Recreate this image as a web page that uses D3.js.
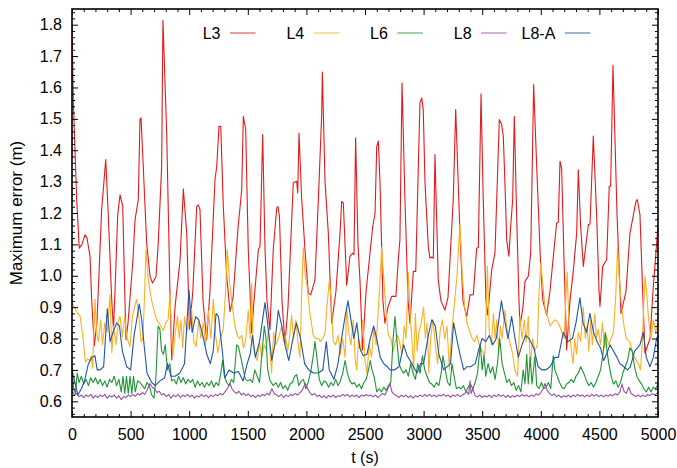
<!DOCTYPE html>
<html>
<head>
<meta charset="utf-8">
<script src="https://cdn.jsdelivr.net/npm/d3@7"></script>
<style>
  html, body { margin: 0; padding: 0; background: #fff; }
  svg { display: block; font-family: "Liberation Sans", Arial, Helvetica, sans-serif; }
</style>
</head>
<body>
<svg id="chart" width="677" height="468"></svg>
<script>
// Time axis and error axis ticks
const xTicks = [0, 500, 1000, 1500, 2000, 2500, 3000, 3500, 4000, 4500, 5000];
const yTicks = [0.6, 0.7, 0.8, 0.9, 1.0, 1.1, 1.2, 1.3, 1.4, 1.5, 1.6, 1.7, 1.8];
const seriesNames = ["L3", "L4", "L6", "L8", "L8-A"];

// Maximum error per configuration, [t (s), error (m)]
const L3 = [[0,1.80],[11,1.56],[40,1.243],[62,1.088],[85,1.10],[111,1.131],[128,1.12],[154,1.062],[168,0.923],[190,0.777],[213,0.85],[253,1.211],[288,1.37],[310,1.189],[339,0.923],[354,0.83],[367,0.95],[390,1.195],[410,1.258],[433,1.221],[452,0.92],[461,0.796],[478,0.85],[520,1.05],[538,1.179],[566,1.243],[580,1.498],[589,1.503],[608,1.349],[637,1.104],[666,0.998],[687,0.977],[717,0.998],[736,1.104],[765,1.349],[776,1.814],[808,1.455],[836,0.945],[851,0.732],[879,0.9],[922,1.05],[950,1.277],[979,1.136],[1002,0.83],[1031,0.95],[1064,1.221],[1078,1.226],[1092,1.211],[1118,0.92],[1149,0.796],[1177,0.95],[1220,1.306],[1235,1.349],[1254,1.476],[1269,1.476],[1291,1.221],[1320,0.998],[1348,0.886],[1374,0.93],[1416,1.15],[1448,1.274],[1462,1.508],[1482,1.466],[1504,1.083],[1533,0.817],[1553,0.92],[1590,1.083],[1604,1.093],[1627,1.45],[1647,1.083],[1664,0.92],[1689,0.828],[1717,1.083],[1747,1.216],[1758,1.22],[1770,1.19],[1792,0.92],[1817,0.785],[1843,0.9],[1888,1.296],[1917,1.301],[1926,1.264],[1937,1.455],[1960,1.243],[1988,1.083],[2016,0.945],[2037,0.939],[2073,0.987],[2102,1.243],[2130,1.508],[2136,1.649],[2159,1.3],[2187,1.136],[2216,0.849],[2252,0.95],[2287,1.136],[2301,1.237],[2315,1.232],[2344,0.97],[2372,1.062],[2395,1.072],[2406,1.067],[2420,1.44],[2440,1.1],[2457,0.987],[2479,0.764],[2509,0.95],[2566,1.157],[2586,1.2],[2600,1.412],[2614,1.429],[2628,1.296],[2642,1.093],[2653,0.92],[2670,0.849],[2696,0.90],[2727,0.934],[2739,0.935],[2764,0.934],[2784,1.051],[2798,1.115],[2816,1.615],[2841,1.243],[2867,0.92],[2884,0.849],[2912,1.014],[2933,1.014],[2955,1.349],[2969,1.551],[2984,1.566],[2997,1.53],[3012,1.296],[3040,1.093],[3054,1.056],[3069,1.06],[3083,1.056],[3097,1.386],[3125,0.987],[3148,0.92],[3182,0.891],[3208,0.93],[3253,1.243],[3274,1.53],[3310,1.136],[3336,0.92],[3368,0.87],[3396,0.939],[3424,0.94],[3453,1.088],[3467,1.09],[3490,1.58],[3509,1.243],[3532,0.92],[3547,0.875],[3581,1.019],[3609,1.072],[3646,1.498],[3666,1.482],[3680,1.445],[3694,1.296],[3709,1.115],[3728,1.062],[3743,1.157],[3760,1.243],[3774,1.508],[3794,1.189],[3814,0.92],[3822,0.838],[3848,0.9],[3865,0.982],[3893,0.998],[3914,1.072],[3939,1.609],[3965,1.349],[3999,1.03],[4018,0.92],[4050,0.875],[4078,0.95],[4135,1.168],[4149,1.17],[4164,1.365],[4178,1.34],[4198,1.051],[4221,0.764],[4249,0.92],[4277,1.014],[4306,1.136],[4320,1.338],[4340,1.157],[4363,1.03],[4392,1.12],[4406,1.163],[4420,1.165],[4448,1.445],[4477,1.189],[4497,0.95],[4505,0.902],[4528,1.03],[4562,1.051],[4584,1.285],[4596,1.285],[4616,1.671],[4650,1.2],[4684,0.88],[4727,0.95],[4761,1.136],[4812,1.237],[4823,1.243],[4846,1.195],[4872,0.92],[4889,0.753],[4932,0.80],[4957,0.95],[5000,1.16]];

const L4 = [[0,0.915],[20,0.90],[40,0.885],[70,0.87],[95,0.80],[114,0.725],[135,0.735],[150,0.73],[165,0.745],[176,0.705],[196,0.925],[210,0.82],[225,0.79],[245,0.86],[260,0.78],[280,0.85],[300,0.82],[324,0.94],[340,0.755],[355,0.84],[375,0.78],[395,0.86],[410,0.87],[430,0.805],[450,0.87],[470,0.80],[495,0.775],[515,0.87],[540,0.91],[552,0.925],[570,0.87],[590,0.79],[605,0.80],[620,0.95],[631,1.085],[650,0.99],[680,0.92],[700,0.89],[723,0.86],[750,0.845],[779,0.825],[800,0.85],[820,0.86],[836,0.945],[850,0.80],[862,0.745],[880,0.815],[900,0.87],[915,0.80],[930,0.86],[945,0.77],[960,0.87],[980,0.82],[1000,0.86],[1020,0.895],[1040,0.79],[1060,0.775],[1080,0.86],[1100,0.80],[1120,0.85],[1140,0.78],[1163,0.89],[1185,0.80],[1206,0.925],[1225,0.81],[1245,0.755],[1265,0.80],[1291,0.83],[1310,0.95],[1325,1.085],[1345,0.98],[1365,0.915],[1390,0.84],[1410,0.81],[1430,0.80],[1450,0.81],[1462,0.77],[1480,0.79],[1504,0.89],[1520,0.80],[1533,0.975],[1545,0.78],[1560,0.75],[1580,0.73],[1600,0.79],[1620,0.74],[1640,0.78],[1660,0.76],[1675,0.83],[1690,0.76],[1703,0.69],[1720,0.82],[1740,0.78],[1760,0.80],[1789,0.84],[1805,0.79],[1820,0.81],[1840,0.76],[1855,0.80],[1874,0.875],[1890,0.80],[1910,0.86],[1930,0.78],[1945,0.74],[1960,0.95],[1974,1.09],[1990,1.0],[2005,0.97],[2030,0.88],[2059,0.81],[2080,0.80],[2100,0.80],[2120,0.79],[2140,0.80],[2160,0.82],[2175,0.90],[2195,0.985],[2210,0.93],[2230,0.79],[2250,0.78],[2270,0.81],[2290,0.75],[2310,0.80],[2330,0.74],[2344,0.90],[2360,0.82],[2380,0.78],[2400,0.86],[2415,0.74],[2429,0.70],[2445,0.80],[2465,0.76],[2480,0.86],[2500,0.73],[2517,0.69],[2535,0.78],[2555,0.74],[2575,0.83],[2595,0.78],[2615,0.90],[2630,1.0],[2642,1.09],[2660,0.99],[2675,0.91],[2699,0.81],[2720,0.80],[2740,0.76],[2760,0.79],[2780,0.81],[2800,0.78],[2815,0.75],[2835,0.84],[2850,0.80],[2870,1.01],[2885,0.88],[2900,0.80],[2915,0.70],[2930,0.88],[2945,0.76],[2960,0.82],[2980,0.85],[3000,0.90],[3015,0.80],[3030,0.85],[3045,0.69],[3060,0.80],[3080,0.86],[3100,0.78],[3120,0.72],[3140,0.82],[3160,0.86],[3180,0.80],[3200,0.84],[3220,0.70],[3240,0.82],[3260,0.90],[3285,1.0],[3310,1.165],[3330,1.0],[3350,0.90],[3370,0.85],[3396,0.82],[3415,0.80],[3435,0.79],[3455,0.81],[3475,0.78],[3500,0.76],[3524,0.75],[3544,1.03],[3560,0.82],[3580,0.78],[3595,0.88],[3610,0.80],[3625,0.86],[3640,0.76],[3655,0.84],[3670,0.80],[3694,0.89],[3715,0.82],[3735,0.79],[3760,0.75],[3779,0.70],[3802,0.68],[3822,0.87],[3840,0.80],[3860,0.86],[3875,0.79],[3893,0.87],[3910,0.71],[3930,0.80],[3950,0.76],[3970,0.78],[3985,0.95],[4000,1.04],[4020,0.96],[4035,0.90],[4055,0.875],[4078,0.84],[4100,0.85],[4120,0.86],[4140,0.855],[4160,0.84],[4180,0.82],[4200,0.80],[4212,0.92],[4225,1.01],[4240,0.85],[4255,0.78],[4275,0.72],[4290,0.80],[4305,0.75],[4320,0.82],[4340,0.79],[4362,0.90],[4380,0.80],[4395,0.84],[4410,0.76],[4425,0.86],[4440,0.78],[4460,0.88],[4475,0.80],[4490,0.83],[4510,0.78],[4525,0.85],[4545,0.77],[4560,0.81],[4580,0.78],[4600,0.80],[4620,0.82],[4640,0.94],[4655,1.09],[4670,0.99],[4690,0.90],[4710,0.84],[4730,0.80],[4760,0.79],[4780,0.76],[4800,0.74],[4832,0.72],[4850,0.70],[4865,0.78],[4880,0.92],[4889,0.998],[4905,0.94],[4920,0.86],[4940,0.80],[4960,0.86],[4980,0.82],[5000,0.85]];

const L6 = [[0,0.71],[15,0.64],[30,0.625],[45,0.69],[60,0.66],[80,0.68],[100,0.655],[120,0.67],[140,0.65],[160,0.675],[180,0.66],[200,0.675],[220,0.655],[240,0.67],[260,0.65],[280,0.665],[300,0.645],[320,0.67],[340,0.66],[360,0.68],[380,0.65],[400,0.67],[420,0.63],[435,0.68],[450,0.625],[465,0.68],[480,0.625],[495,0.68],[510,0.625],[525,0.68],[540,0.63],[560,0.665],[580,0.66],[600,0.65],[620,0.64],[640,0.66],[660,0.65],[680,0.62],[700,0.61],[715,0.67],[735,0.84],[750,0.83],[765,0.76],[780,0.75],[795,0.78],[815,0.70],[835,0.72],[850,0.665],[870,0.67],[890,0.655],[910,0.68],[930,0.66],[950,0.675],[970,0.655],[990,0.67],[1010,0.66],[1030,0.67],[1050,0.645],[1070,0.665],[1090,0.65],[1110,0.66],[1130,0.645],[1150,0.66],[1170,0.65],[1190,0.665],[1210,0.645],[1230,0.66],[1250,0.65],[1270,0.69],[1285,0.73],[1300,0.68],[1320,0.66],[1340,0.65],[1360,0.67],[1380,0.66],[1405,0.78],[1420,0.775],[1440,0.74],[1462,0.70],[1480,0.67],[1500,0.665],[1520,0.67],[1540,0.66],[1560,0.70],[1580,0.68],[1600,0.66],[1620,0.75],[1641,0.84],[1655,0.80],[1670,0.70],[1690,0.665],[1718,0.65],[1740,0.66],[1760,0.645],[1780,0.66],[1800,0.64],[1820,0.65],[1840,0.635],[1860,0.655],[1880,0.66],[1900,0.68],[1917,0.685],[1935,0.65],[1955,0.665],[1975,0.67],[1995,0.64],[2015,0.66],[2040,0.70],[2060,0.75],[2073,0.79],[2090,0.74],[2110,0.67],[2130,0.65],[2150,0.665],[2170,0.66],[2190,0.645],[2210,0.66],[2230,0.65],[2250,0.67],[2270,0.65],[2290,0.665],[2310,0.69],[2330,0.73],[2350,0.69],[2370,0.665],[2390,0.655],[2410,0.66],[2430,0.645],[2450,0.655],[2470,0.64],[2490,0.66],[2510,0.67],[2530,0.70],[2545,0.73],[2560,0.70],[2580,0.675],[2600,0.63],[2620,0.64],[2640,0.63],[2660,0.645],[2680,0.635],[2700,0.65],[2720,0.66],[2740,0.80],[2756,0.87],[2775,0.78],[2790,0.72],[2810,0.70],[2830,0.69],[2850,0.70],[2870,0.68],[2890,0.72],[2910,0.69],[2930,0.67],[2950,0.72],[2970,0.69],[2990,0.745],[3010,0.70],[3030,0.68],[3050,0.66],[3070,0.655],[3090,0.645],[3110,0.66],[3130,0.65],[3150,0.69],[3165,0.745],[3185,0.70],[3205,0.66],[3225,0.65],[3242,0.72],[3260,0.68],[3280,0.64],[3300,0.645],[3320,0.64],[3340,0.65],[3360,0.63],[3380,0.645],[3400,0.655],[3420,0.64],[3440,0.66],[3460,0.69],[3484,0.78],[3500,0.70],[3515,0.75],[3530,0.68],[3550,0.72],[3570,0.69],[3590,0.71],[3610,0.67],[3630,0.72],[3650,0.80],[3670,0.72],[3690,0.69],[3710,0.66],[3730,0.67],[3750,0.65],[3770,0.66],[3790,0.635],[3810,0.65],[3830,0.63],[3850,0.70],[3865,0.655],[3880,0.75],[3893,0.655],[3910,0.74],[3925,0.655],[3950,0.745],[3965,0.65],[3985,0.64],[4005,0.66],[4025,0.64],[4045,0.645],[4065,0.66],[4085,0.64],[4106,0.745],[4120,0.70],[4140,0.68],[4160,0.66],[4180,0.645],[4200,0.64],[4220,0.655],[4240,0.66],[4260,0.67],[4280,0.66],[4300,0.68],[4320,0.69],[4340,0.71],[4366,0.69],[4390,0.665],[4410,0.65],[4430,0.66],[4450,0.645],[4470,0.66],[4490,0.68],[4510,0.70],[4530,0.75],[4550,0.82],[4565,0.76],[4580,0.72],[4600,0.68],[4620,0.655],[4640,0.665],[4660,0.645],[4680,0.66],[4700,0.69],[4720,0.71],[4740,0.73],[4760,0.77],[4780,0.76],[4800,0.71],[4820,0.68],[4840,0.665],[4860,0.655],[4880,0.64],[4900,0.63],[4920,0.645],[4940,0.63],[4960,0.645],[4980,0.64],[5000,0.655]];

const L8 = [[0,0.635],[20,0.62],[40,0.625],[60,0.615],[80,0.62],[100,0.612],[120,0.62],[140,0.615],[160,0.622],[180,0.61],[200,0.618],[220,0.612],[240,0.62],[260,0.615],[280,0.622],[300,0.61],[320,0.618],[340,0.614],[360,0.62],[380,0.61],[400,0.618],[420,0.605],[440,0.615],[460,0.612],[480,0.62],[500,0.615],[520,0.622],[540,0.616],[560,0.625],[580,0.62],[600,0.628],[620,0.622],[640,0.635],[665,0.657],[685,0.645],[705,0.64],[725,0.628],[745,0.632],[765,0.62],[785,0.625],[805,0.615],[825,0.622],[845,0.61],[865,0.62],[885,0.615],[905,0.622],[925,0.612],[945,0.62],[965,0.615],[985,0.622],[1005,0.614],[1025,0.62],[1045,0.61],[1065,0.618],[1085,0.614],[1105,0.622],[1125,0.615],[1145,0.62],[1165,0.612],[1185,0.62],[1205,0.615],[1225,0.622],[1245,0.618],[1265,0.625],[1285,0.62],[1305,0.63],[1325,0.64],[1348,0.657],[1365,0.64],[1385,0.63],[1405,0.625],[1425,0.632],[1445,0.62],[1465,0.626],[1485,0.618],[1505,0.624],[1525,0.615],[1545,0.62],[1565,0.612],[1585,0.62],[1605,0.615],[1625,0.622],[1645,0.618],[1665,0.625],[1685,0.62],[1705,0.64],[1725,0.625],[1745,0.62],[1765,0.615],[1785,0.622],[1805,0.612],[1825,0.62],[1845,0.615],[1865,0.622],[1885,0.618],[1905,0.625],[1925,0.62],[1945,0.628],[1965,0.635],[1990,0.657],[2010,0.64],[2030,0.628],[2050,0.62],[2070,0.625],[2090,0.615],[2110,0.62],[2130,0.612],[2150,0.618],[2170,0.61],[2190,0.618],[2210,0.614],[2230,0.62],[2250,0.612],[2270,0.618],[2290,0.615],[2310,0.622],[2330,0.617],[2350,0.622],[2370,0.614],[2390,0.62],[2410,0.615],[2430,0.62],[2450,0.612],[2470,0.62],[2490,0.616],[2510,0.622],[2530,0.617],[2550,0.62],[2570,0.614],[2590,0.62],[2610,0.612],[2630,0.618],[2650,0.625],[2670,0.62],[2690,0.635],[2713,0.657],[2730,0.63],[2750,0.622],[2770,0.618],[2790,0.612],[2810,0.62],[2830,0.614],[2850,0.62],[2870,0.612],[2890,0.618],[2910,0.61],[2930,0.618],[2950,0.614],[2970,0.62],[2990,0.615],[3010,0.622],[3030,0.616],[3050,0.622],[3070,0.615],[3090,0.62],[3110,0.614],[3130,0.62],[3150,0.617],[3170,0.623],[3190,0.616],[3210,0.62],[3230,0.613],[3250,0.62],[3270,0.616],[3290,0.622],[3310,0.615],[3330,0.62],[3350,0.625],[3370,0.63],[3385,0.622],[3396,0.665],[3405,0.625],[3420,0.64],[3440,0.618],[3460,0.614],[3480,0.62],[3500,0.612],[3520,0.618],[3540,0.614],[3560,0.62],[3580,0.612],[3600,0.62],[3620,0.615],[3640,0.622],[3660,0.616],[3680,0.62],[3700,0.613],[3720,0.62],[3740,0.612],[3760,0.618],[3780,0.614],[3800,0.62],[3820,0.615],[3840,0.622],[3860,0.616],[3880,0.62],[3900,0.614],[3920,0.62],[3940,0.616],[3960,0.624],[3980,0.62],[4000,0.628],[4020,0.64],[4036,0.657],[4055,0.635],[4075,0.625],[4095,0.618],[4115,0.624],[4135,0.615],[4155,0.62],[4175,0.612],[4195,0.618],[4215,0.614],[4235,0.62],[4255,0.613],[4275,0.62],[4295,0.615],[4315,0.622],[4335,0.616],[4355,0.62],[4375,0.614],[4395,0.62],[4415,0.615],[4435,0.622],[4455,0.617],[4475,0.622],[4495,0.615],[4515,0.62],[4535,0.614],[4555,0.62],[4575,0.616],[4595,0.622],[4615,0.618],[4635,0.624],[4655,0.62],[4675,0.63],[4693,0.655],[4710,0.632],[4730,0.625],[4750,0.645],[4770,0.625],[4790,0.62],[4810,0.615],[4830,0.62],[4850,0.614],[4870,0.62],[4890,0.615],[4910,0.622],[4930,0.618],[4950,0.624],[4970,0.62],[5000,0.628]];

const L8A = [[0,0.70],[25,0.66],[50,0.62],[80,0.64],[110,0.67],[140,0.72],[170,0.74],[196,0.745],[215,0.70],[240,0.70],[270,0.71],[301,0.895],[325,0.79],[350,0.82],[381,0.85],[405,0.84],[430,0.76],[467,0.71],[500,0.70],[530,0.81],[574,0.91],[595,0.86],[615,0.78],[640,0.69],[680,0.66],[710,0.65],[750,0.665],[790,0.675],[815,0.72],[845,0.68],[880,0.68],[920,0.69],[960,0.72],[998,0.955],[1025,0.82],[1055,0.87],[1080,0.86],[1110,0.82],[1150,0.75],[1180,0.72],[1205,0.76],[1229,0.88],[1250,0.87],[1280,0.77],[1305,0.675],[1340,0.70],[1380,0.69],[1420,0.695],[1460,0.665],[1495,0.72],[1520,0.75],[1540,0.81],[1565,0.74],[1600,0.79],[1647,0.915],[1675,0.83],[1705,0.73],[1730,0.78],[1760,0.89],[1790,0.84],[1820,0.775],[1850,0.73],[1885,0.80],[1915,0.85],[1950,0.80],[1985,0.72],[2020,0.70],[2060,0.69],[2100,0.69],[2140,0.70],[2170,0.79],[2195,0.70],[2235,0.67],[2270,0.72],[2300,0.80],[2330,0.87],[2355,0.92],[2380,0.86],[2405,0.80],[2430,0.85],[2455,0.77],[2485,0.745],[2517,0.75],[2545,0.80],[2574,0.84],[2600,0.80],[2630,0.74],[2660,0.72],[2690,0.71],[2716,0.70],[2750,0.70],[2790,0.71],[2830,0.78],[2860,0.745],[2900,0.72],[2944,0.69],[2975,0.72],[3000,0.72],[3043,0.815],[3071,0.86],[3100,0.84],[3130,0.75],[3171,0.70],[3200,0.71],[3230,0.72],[3256,0.85],[3285,0.795],[3310,0.75],[3342,0.70],[3370,0.71],[3400,0.71],[3442,0.72],[3470,0.765],[3499,0.80],[3530,0.79],[3560,0.81],[3590,0.78],[3620,0.80],[3664,0.92],[3690,0.86],[3720,0.80],[3751,0.87],[3780,0.80],[3808,0.74],[3840,0.78],[3870,0.81],[3900,0.80],[3940,0.77],[3978,0.71],[4010,0.70],[4040,0.70],[4080,0.71],[4121,0.74],[4150,0.74],[4192,0.82],[4230,0.79],[4270,0.80],[4300,0.85],[4334,0.93],[4360,0.85],[4390,0.82],[4419,0.88],[4450,0.82],[4480,0.79],[4510,0.77],[4536,0.73],[4561,0.75],[4590,0.78],[4620,0.76],[4650,0.74],[4675,0.72],[4710,0.71],[4740,0.70],[4764,0.71],[4800,0.76],[4846,0.78],[4874,0.82],[4900,0.74],[4931,0.71],[4960,0.74],[4988,0.80],[5000,0.81]];

const seriesData = [L3, L4, L6, L8, L8A];
const seriesColors = ["#e31a1c", "#fdb022", "#1f9433", "#9a4fa8", "#1f55aa"];

const svg = d3.select("#chart");
const margin = { left: 72, right: 19, top: 9, bottom: 51 };
const W = 677, H = 468;
const iw = W - margin.left - margin.right;
const ih = H - margin.top - margin.bottom;

const x = d3.scaleLinear().domain([0, 5000]).range([0, iw]);
const y = d3.scaleLinear().domain([0.55, 1.85]).range([ih, 0]);

const g = svg.append("g").attr("transform", `translate(${margin.left},${margin.top})`);

g.append("defs").append("clipPath").attr("id", "plotclip")
  .append("rect").attr("width", iw).attr("height", ih);

// Data lines
const line = d3.line().x(d => x(d[0])).y(d => y(d[1]));
const lines = g.append("g").attr("clip-path", "url(#plotclip)");
seriesData.forEach((s, i) => {
  lines.append("path")
    .datum(s)
    .attr("fill", "none")
    .attr("stroke", seriesColors[i])
    .attr("stroke-width", 1.1)
    .attr("stroke-linejoin", "round")
    .attr("d", line);
});

// Inward ticks on all four sides
const xMinor = d3.range(0, 5001, 100).filter(v => v % 500 !== 0);
const yMinor = d3.range(56, 185, 2).map(v => v / 100).filter(v => Math.round(v * 100) % 10 !== 0);

function styleAxis(sel) {
  sel.select(".domain").remove();
  sel.selectAll(".tick line").attr("stroke", "#000").attr("stroke-width", 1);
  sel.selectAll("text").attr("font-size", 16).attr("fill", "#000")
    .attr("font-family", '"Liberation Sans", Arial, Helvetica, sans-serif');
}

g.append("g").attr("transform", `translate(0,${ih})`)
  .call(d3.axisBottom(x).tickValues(xTicks).tickFormat(d3.format("d")).tickSize(-6).tickPadding(12))
  .call(styleAxis);
g.append("g").attr("transform", `translate(0,${ih})`)
  .call(d3.axisBottom(x).tickValues(xMinor).tickFormat("").tickSize(-3))
  .call(styleAxis);
g.append("g")
  .call(d3.axisTop(x).tickValues(xTicks).tickFormat("").tickSize(-6))
  .call(styleAxis);
g.append("g")
  .call(d3.axisTop(x).tickValues(xMinor).tickFormat("").tickSize(-3))
  .call(styleAxis);

g.append("g")
  .call(d3.axisLeft(y).tickValues(yTicks).tickFormat(d3.format(".1f")).tickSize(-6).tickPadding(10))
  .call(styleAxis);
g.append("g")
  .call(d3.axisLeft(y).tickValues(yMinor).tickFormat("").tickSize(-3))
  .call(styleAxis);
g.append("g").attr("transform", `translate(${iw},0)`)
  .call(d3.axisRight(y).tickValues(yTicks).tickFormat("").tickSize(-6))
  .call(styleAxis);
g.append("g").attr("transform", `translate(${iw},0)`)
  .call(d3.axisRight(y).tickValues(yMinor).tickFormat("").tickSize(-3))
  .call(styleAxis);

// Frame
g.append("rect")
  .attr("width", iw).attr("height", ih)
  .attr("fill", "none").attr("stroke", "#000").attr("stroke-width", 1.6);

// Axis titles
svg.append("text")
  .attr("x", margin.left + iw / 2).attr("y", 463)
  .attr("text-anchor", "middle").attr("font-size", 16)
  .text("t (s)");
svg.append("text")
  .attr("transform", `translate(22,${margin.top + ih / 2}) rotate(-90)`)
  .attr("text-anchor", "middle").attr("font-size", 17)
  .text("Maximum error (m)");

// Legend across the top
const legend = svg.append("g").attr("transform", "translate(230,33)");
seriesNames.forEach((name, i) => {
  const lg = legend.append("g").attr("transform", `translate(${i * 83.7},0)`);
  lg.append("text")
    .attr("x", -9.5).attr("y", 5.7)
    .attr("text-anchor", "end").attr("font-size", 16)
    .text(name);
  lg.append("line")
    .attr("x1", 0).attr("x2", 25.5).attr("y1", 0).attr("y2", 0)
    .attr("stroke", seriesColors[i]).attr("stroke-width", 1.6)
    .attr("stroke-opacity", 0.55);
});
</script>
</body>
</html>
